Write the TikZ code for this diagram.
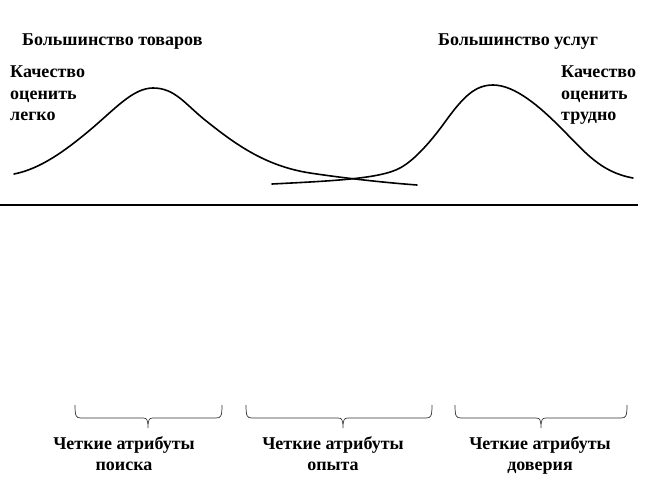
\documentclass[tikz,border=0pt]{standalone}
\usepackage{fontspec}
\setmainfont{Liberation Serif}
\begin{document}
\begin{tikzpicture}[x=1pt,y=-1pt,
  lbl/.style={inner sep=0pt,font=\bfseries\fontsize{18}{21.5}\selectfont},
  curve/.style={line width=1.6pt,line join=round,line cap=round},
  brc/.style={line width=0.7pt,black!80}]
\useasboundingbox (0,0) rectangle (651,482);
% titles
\node[lbl,anchor=west] (t1) at (22,42) {Большинство товаров};
\node[lbl,anchor=west] (t2) at (438,42) {Большинство услуг};
\node[lbl,anchor=north west,align=left] (q1) at (10,66) {Качество\\оценить\\легко};
\node[lbl,anchor=north west,align=left] (q2) at (561,66) {Качество\\оценить\\трудно};
% axis
\draw[line width=2pt] (0,205) coordinate (a1) -- (638,205) coordinate (a2);
% left curve (most goods)
\draw[curve] (14,174) .. controls (40,169) and (65,151) .. (90,130)
  .. controls (115,109) and (133,88) .. (153,88)
  .. controls (175,88) and (185,104) .. (205,120)
  .. controls (235,144) and (265,166) .. (310,173)
  .. controls (350,179) and (390,183) .. (417,185);
% right curve (most services)
\draw[curve] (272,184) .. controls (330,181) and (380,179) .. (400,168)
  .. controls (415,160) and (432,140) .. (445,122)
  .. controls (463,97) and (475,85) .. (493,85)
  .. controls (515,85) and (540,107) .. (560,127)
  .. controls (585,152) and (600,172) .. (633,178);
% braces
\foreach \xa/\xm/\xb in {75/148/222, 246/343/432, 455/541/627}{
  \draw[brc] (\xa,405) .. controls (\xa,416) and (\xa+1,418) .. (\xa+6,418) -- (\xm-5,418) .. controls (\xm-1,418) and (\xm,420) .. (\xm,428)
    .. controls (\xm,420) and (\xm+1,418) .. (\xm+5,418) -- (\xb-6,418) .. controls (\xb-1,418) and (\xb,416) .. (\xb,405);
}
% bottom labels
\node[lbl,align=center,anchor=north] (b1) at (124,436) {Четкие атрибуты\\поиска};
\node[lbl,align=center,anchor=north] (b2) at (333,436) {Четкие атрибуты\\опыта};
\node[lbl,align=center,anchor=north] (b3) at (540,436) {Четкие атрибуты\\доверия};
\end{tikzpicture}
\end{document}
